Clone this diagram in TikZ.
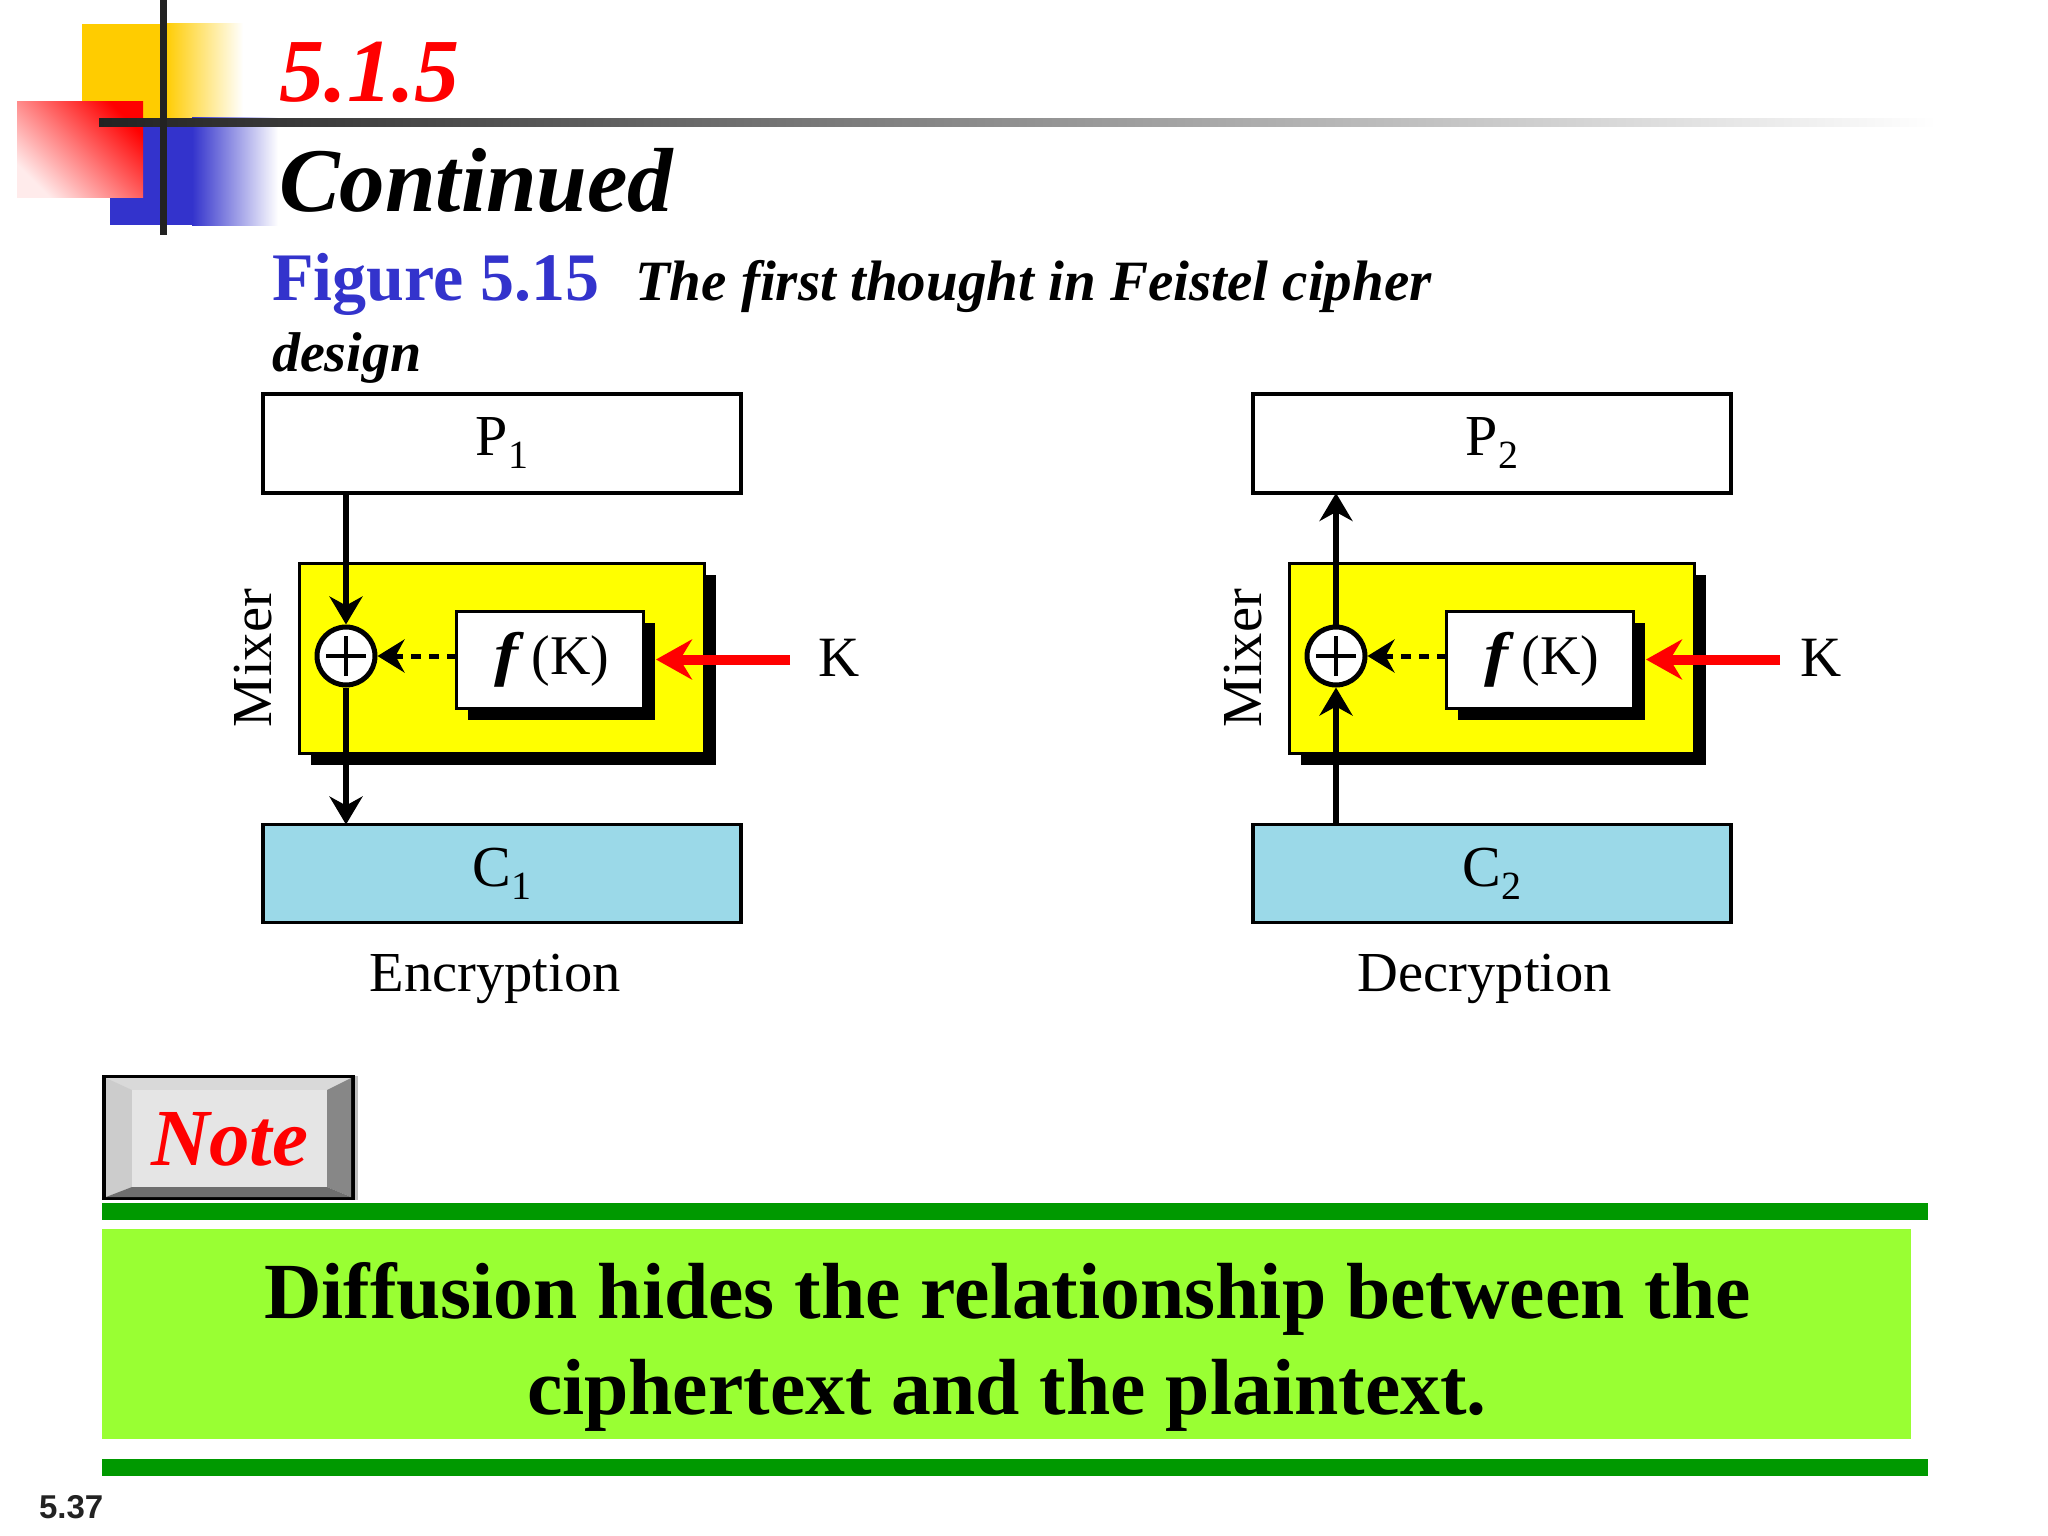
\documentclass[tikz,border=0pt]{standalone}
\usepackage{fontspec}
\usetikzlibrary{arrows.meta,shadows,calc}
\setmainfont{Liberation Serif}[Ligatures=NoCommon]
\newfontfamily\arialb{Liberation Sans}
\newcommand{\fsz}[1]{\fontsize{#1}{#1}\selectfont}
\newcommand{\sbs}[1]{\raisebox{-13pt}{\fsz{40}#1}}
\newcommand{\ffn}{\scalebox{1.2}[1]{\fsz{60}\bfseries\itshape f}\hspace{13pt}}
\definecolor{cRed}{HTML}{FF0000}
\definecolor{cBlue}{HTML}{3333CC}
\definecolor{cGold}{HTML}{FFCC00}
\definecolor{cDark}{HTML}{222222}
\definecolor{cCyan}{HTML}{9BD9E8}
\definecolor{cBar}{HTML}{009900}
\definecolor{cLime}{HTML}{99FF33}
\definecolor{cYel}{HTML}{FFFF00}
\tikzset{
  x=1pt,y=-1pt,
  txt/.style={anchor=base west,inner sep=0pt,outer sep=0pt},
  blockbox/.style={draw=black,line width=3.5pt,inner sep=0pt,outer sep=0pt,font=\fsz{58}},
  mixbox/.style={blockbox,fill=cYel,drop shadow={shadow xshift=11pt,shadow yshift=-11pt,opacity=1,fill=black}},
  fbox/.style={blockbox,fill=white,font=\fsz{56},drop shadow={shadow xshift=11pt,shadow yshift=-11pt,opacity=1,fill=black}},
  xornode/.style={circle,draw=black,fill=white,line width=5pt,minimum size=58pt,inner sep=0pt,outer sep=2.5pt},
  flow/.style={line width=5.5pt,-{Stealth[length=28pt,width=33pt,inset=9pt]}},
  dashflow/.style={line width=5pt,dash pattern=on 10pt off 8pt,-{Stealth[length=27pt,width=33pt,inset=9pt,fill=black]}},
  keyflow/.style={line width=10pt,draw=cRed,-{Stealth[length=36pt,width=40pt,inset=12pt]}},
}
\begin{document}
\begin{tikzpicture}
\useasboundingbox (0,0) rectangle (2048,1536);
% corner ornament
\fill[cGold] (82,24) rectangle (165,130);
\shade[left color=cGold,right color=white] (165,24) rectangle (243,130);
\fill[cBlue] (110,118) rectangle (192,225);
\shade[left color=cBlue,right color=white] (192,118) rectangle (278,225);
\shade[shading=axis,bottom color=cRed!8!white,middle color=cRed!62!white,top color=cRed,shading angle=-45] (17,102) rectangle (143,197);
\shade[left color=cDark,right color=white] (99,119) rectangle (1937,127);
\fill[cDark] (159.5,0) rectangle (166.5,235);
% titles
\node[txt,text=cRed] (secnum) at (279.5,102) {\fsz{90}\bfseries\itshape 5.1.5};
\node[txt] (cont) at (279,211) {\fsz{91}\bfseries\itshape Continued};
\node[txt,text=cBlue] (figlab) at (272,300) {\fsz{68}\bfseries Figure 5.15};
\node[txt] (figcap) at (635,300) {\fsz{57}\bfseries\itshape The first thought in Feistel cipher};
\node[txt] (figcap2) at (272,371) {\fsz{56}\bfseries\itshape design};
% encryption
\node[blockbox,minimum width=478pt,minimum height=99pt] (P1) at (502,443.5) {P\sbs{1}};
\node[blockbox,fill=cCyan,minimum width=478pt,minimum height=98pt] (C1) at (502,873.5) {C\sbs{1}};
\node[mixbox,minimum width=405pt,minimum height=190pt] (M1) at (502,658.5) {};
\node[fbox,minimum width=187pt,minimum height=97pt,text width=187pt,align=center] (F1) at (550,660) {\hspace{4pt}\ffn(K)};
\node[xornode] (X1) at (346,656) {};
\draw[line width=3.5pt] ([xshift=-20pt]X1.center) -- ([xshift=20pt]X1.center);
\draw[line width=3.5pt] ([yshift=-20pt]X1.center) -- ([yshift=20pt]X1.center);
\draw[flow] (X1.north |- P1.south) -- (X1.north);
\draw[flow] (X1.south) -- (X1.south |- C1.north);
\draw[dashflow] (F1.west |- X1.east) -- (X1.east);
\node[txt,anchor=base,font=\fsz{57}] (K1) at (839,676) {K};
\coordinate (K1s) at (790,659.5);
\draw[keyflow] (K1s) -- (656,659.5);
\node[txt,rotate=90,anchor=base,font=\fsz{56.5}] (Mx1) at (271,658) {Mixer};
\node[txt,anchor=base,font=\fsz{56.5}] (Enc) at (495,991) {Encryption};
% decryption
\node[blockbox,minimum width=478pt,minimum height=99pt] (P2) at (1492,443.5) {P\sbs{2}};
\node[blockbox,fill=cCyan,minimum width=478pt,minimum height=98pt] (C2) at (1492,873.5) {C\sbs{2}};
\node[mixbox,minimum width=405pt,minimum height=190pt] (M2) at (1492,658.5) {};
\node[fbox,minimum width=187pt,minimum height=97pt,text width=187pt,align=center] (F2) at (1540,660) {\hspace{4pt}\ffn(K)};
\node[xornode] (X2) at (1336,656) {};
\draw[line width=3.5pt] ([xshift=-20pt]X2.center) -- ([xshift=20pt]X2.center);
\draw[line width=3.5pt] ([yshift=-20pt]X2.center) -- ([yshift=20pt]X2.center);
\draw[flow] (X2.north) -- (X2.north |- P2.south);
\draw[flow] (X2.south |- C2.north) -- (X2.south);
\draw[dashflow] (F2.west |- X2.east) -- (X2.east);
\node[txt,anchor=base,font=\fsz{57}] (K2) at (1821,676) {K};
\coordinate (K2s) at (1780,659.5);
\draw[keyflow] (K2s) -- (1646,659.5);
\node[txt,rotate=90,anchor=base,font=\fsz{56.5}] (Mx2) at (1261,658) {Mixer};
\node[txt,anchor=base,font=\fsz{56.5}] (Dec) at (1485,991) {Decryption};
% note button
\fill[black!25] (355,1076) rectangle (358,1200);
\fill[black] (102,1075) rectangle (355,1200);
\fill[black!12] (106,1078) rectangle (351,1197);
\fill[gray!30!white] (106,1078) -- (351,1078) -- (327,1090) -- (132,1090) -- cycle;
\fill[gray!40!white] (106,1078) -- (132,1090) -- (132,1187) -- (106,1197) -- cycle;
\fill[black!47] (351,1078) -- (327,1090) -- (327,1187) -- (351,1197) -- cycle;
\fill[black!57] (106,1197) -- (132,1187) -- (327,1187) -- (351,1197) -- cycle;
\fill[black!10] (132,1090) rectangle (327,1187);
\node[txt,text=cRed] (Note) at (151,1165) {\fsz{81}\bfseries\itshape Note};
% banner
\fill[cBar] (102,1203) rectangle (1928,1220);
\fill[cLime] (102,1229) rectangle (1911,1439);
\fill[cBar] (102,1459) rectangle (1928,1476);
\node[txt] (D1) at (264,1318) {\fsz{79.6}\bfseries Diffusion hides the relationship between the};
\node[txt] (D2) at (527,1414) {\fsz{79.6}\bfseries ciphertext and the plaintext.};
\node[txt,text=cDark] (pg) at (39,1518) {\arialb\fsz{33}\bfseries 5.37};
\end{tikzpicture}
\end{document}
